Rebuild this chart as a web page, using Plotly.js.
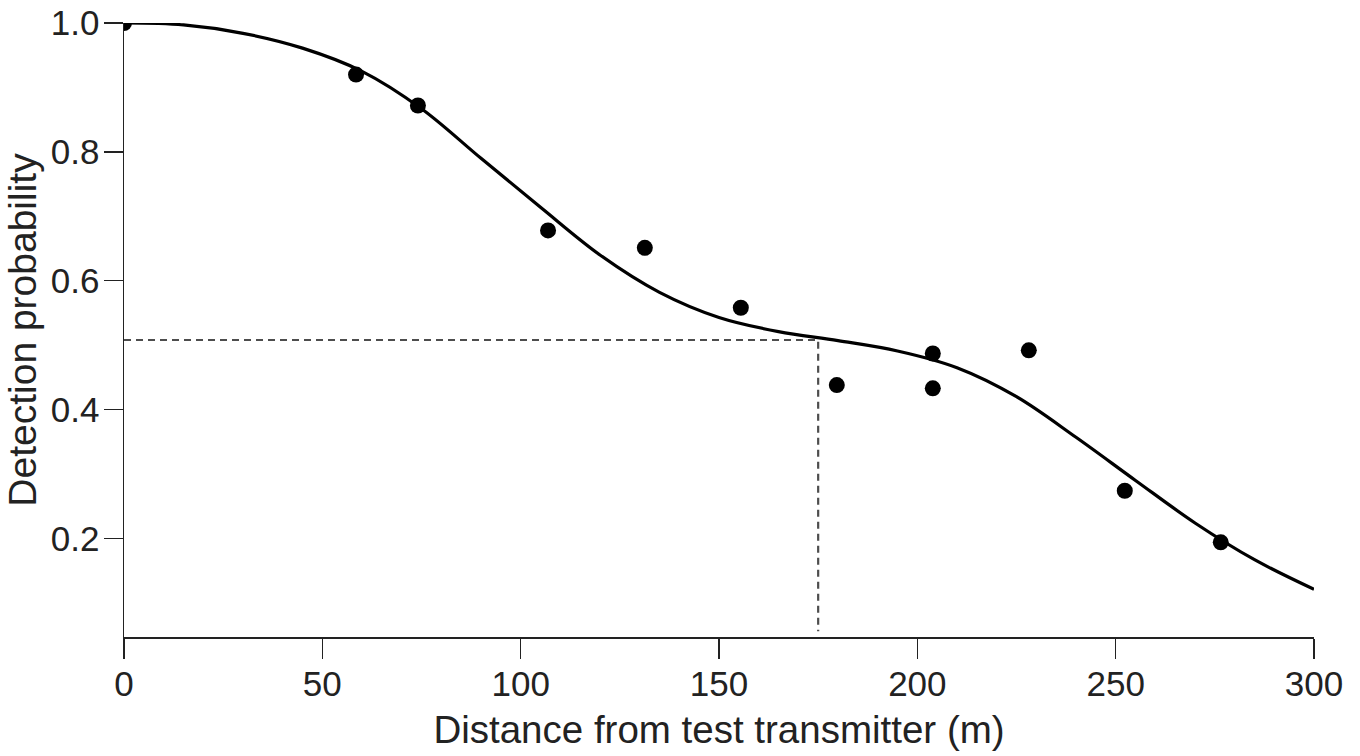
<!DOCTYPE html>
<html>
<head>
<meta charset="utf-8">
<script src="https://cdn.plot.ly/plotly-3.0.1.min.js"></script>
<style>html,body{margin:0;padding:0;background:#fff;}#chart{width:1360px;height:756px;}</style>
</head>
<body>
<div id="chart"></div>
<script>
// Observed detection probabilities
const obsDistance = [0, 58.5, 74.1, 106.9, 131.3, 155.5, 179.7, 203.9, 203.9, 228.1, 252.3, 276.5];
const obsProb     = [1.0, 0.920, 0.872, 0.678, 0.651, 0.558, 0.438, 0.487, 0.433, 0.492, 0.274, 0.194];

// Fitted curve
const fitDistance = [0, 15, 30, 45, 60, 75, 90, 105, 120, 135, 150, 165, 180, 195, 210, 225, 240, 255, 270, 285, 300];
const fitProb     = [1.000, 0.997, 0.984, 0.961, 0.925, 0.867, 0.790, 0.714, 0.640, 0.582, 0.543, 0.521, 0.507, 0.491, 0.465, 0.420, 0.357, 0.290, 0.224, 0.167, 0.121];

// 50% detection range reference lines
const refDistance = [0, 175, 175];
const refProb     = [0.508, 0.508, 0.056];

const xTicks = [0, 50, 100, 150, 200, 250, 300];
const yTicks = [0.2, 0.4, 0.6, 0.8, 1.0];

const font = 'Liberation Sans, Arial, Helvetica, sans-serif';

const traces = [
  {
    x: refDistance, y: refProb, mode: 'lines', type: 'scatter',
    line: {color: '#4d4d4d', width: 2.2, dash: '7px,5px'},
    hoverinfo: 'skip'
  },
  {
    x: fitDistance, y: fitProb, mode: 'lines', type: 'scatter',
    line: {color: '#000000', width: 3.2, shape: 'spline', smoothing: 1}
  },
  {
    x: obsDistance, y: obsProb, mode: 'markers', type: 'scatter',
    marker: {color: '#000000', size: 16},
    cliponaxis: true
  }
];

const layout = {
  width: 1360, height: 756,
  margin: {l: 124, r: 46, t: 23, b: 119},
  paper_bgcolor: '#ffffff', plot_bgcolor: '#ffffff',
  showlegend: false,
  font: {family: font, color: '#222222'},
  xaxis: {
    range: [0, 300], tickvals: xTicks, ticktext: xTicks.map(String),
    showgrid: false, zeroline: false,
    showline: true, linecolor: '#222222', linewidth: 1.5,
    ticks: 'outside', ticklen: 20, tickwidth: 1.5, tickcolor: '#222222',
    ticklabelstandoff: -5,
    tickfont: {size: 35, family: font, color: '#222222'},
    title: {text: 'Distance from test transmitter (m)', font: {size: 38.5, family: font, color: '#222222'}, standoff: 14},
    automargin: false
  },
  yaxis: {
    range: [0.047, 1.0], tickvals: yTicks, ticktext: yTicks.map(v => v.toFixed(1)),
    showgrid: false, zeroline: false,
    showline: true, linecolor: '#222222', linewidth: 1.5,
    ticks: 'outside', ticklen: 19, tickwidth: 1.5, tickcolor: '#222222',
    ticklabelstandoff: -3,
    tickfont: {size: 35, family: font, color: '#222222'},
    title: {text: 'Detection probability', font: {size: 39, family: font, color: '#222222'}, standoff: 2},
    automargin: false
  }
};

Plotly.newPlot('chart', traces, layout, {displayModeBar: false, staticPlot: true});
</script>
</body>
</html>
